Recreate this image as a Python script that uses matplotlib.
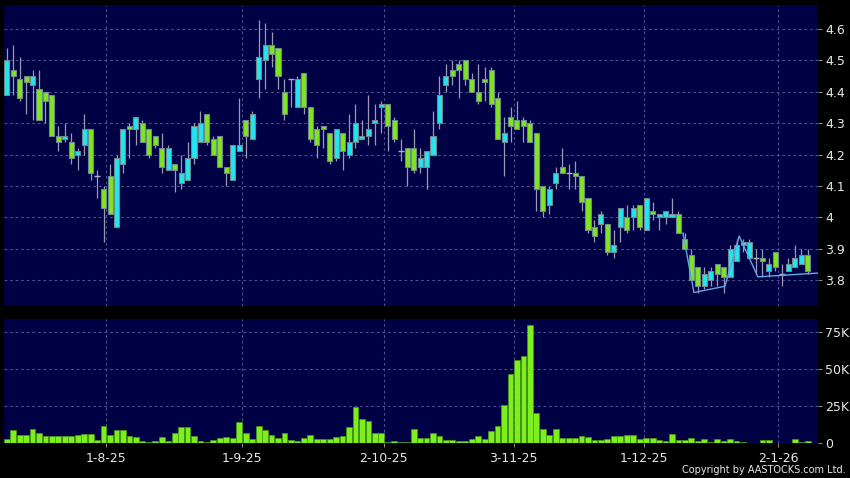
import matplotlib
matplotlib.use("Agg")
import matplotlib.pyplot as plt
import numpy as np
from matplotlib.ticker import FuncFormatter

# Daily prices (one entry per trading day)
opens = [4.39, 4.47, 4.44, 4.45, 4.42, 4.41, 4.40, 4.39, 4.26, 4.25,
         4.24, 4.20, 4.23, 4.28, 4.13, 4.09, 4.13, 3.97, 4.17, 4.29,
         4.28, 4.30, 4.28, 4.26, 4.22, 4.15, 4.17, 4.11, 4.12, 4.19,
         4.24, 4.33, 4.25, 4.26, 4.16, 4.12, 4.21, 4.31, 4.25, 4.44,
         4.50, 4.55, 4.54, 4.40, 4.44, 4.35, 4.46, 4.35, 4.28, 4.29,
         4.27, 4.19, 4.27, 4.20, 4.24, 4.25, 4.26, 4.30, 4.35, 4.36,
         4.31, 4.21, 4.22, 4.22, 4.16, 4.16, 4.20, 4.30, 4.42, 4.47,
         4.49, 4.50, 4.44, 4.40, 4.44, 4.47, 4.38, 4.24, 4.32, 4.31,
         4.31, 4.30, 4.27, 4.10, 4.04, 4.11, 4.16, 4.14, 4.14, 4.13,
         4.06, 3.97, 3.98, 3.98, 3.89, 3.97, 4.00, 4.00, 4.04, 3.96,
         4.02, 4.00, 4.00, 4.00, 4.01, 3.93, 3.88, 3.84, 3.78, 3.80,
         3.85, 3.84, 3.81, 3.86, 3.91, 3.87, 3.87, 3.87, 3.83, 3.89,
         3.82, 3.83, 3.84, 3.85, 3.88]
highs = [4.54, 4.55, 4.51, 4.45, 4.47, 4.47, 4.40, 4.39, 4.29, 4.30,
         4.27, 4.22, 4.33, 4.28, 4.15, 4.10, 4.17, 4.20, 4.28, 4.30,
         4.32, 4.31, 4.28, 4.26, 4.27, 4.23, 4.17, 4.20, 4.24, 4.30,
         4.34, 4.33, 4.26, 4.26, 4.16, 4.23, 4.38, 4.31, 4.34, 4.63,
         4.62, 4.59, 4.54, 4.44, 4.44, 4.45, 4.46, 4.35, 4.29, 4.29,
         4.27, 4.28, 4.27, 4.33, 4.36, 4.31, 4.39, 4.36, 4.37, 4.36,
         4.32, 4.25, 4.22, 4.28, 4.22, 4.21, 4.34, 4.45, 4.49, 4.50,
         4.50, 4.50, 4.46, 4.49, 4.48, 4.48, 4.40, 4.32, 4.35, 4.37,
         4.32, 4.31, 4.27, 4.10, 4.10, 4.16, 4.22, 4.17, 4.18, 4.13,
         4.06, 3.99, 4.02, 3.98, 3.96, 4.03, 4.04, 4.04, 4.04, 4.06,
         4.05, 4.01, 4.02, 4.06, 4.02, 3.95, 3.90, 3.84, 3.84, 3.84,
         3.85, 3.84, 3.91, 3.93, 3.93, 3.93, 3.90, 3.90, 3.87, 3.89,
         3.85, 3.87, 3.91, 3.90, 3.90]
lows = [4.39, 4.39, 4.37, 4.33, 4.31, 4.31, 4.30, 4.26, 4.21, 4.24,
        4.17, 4.15, 4.20, 4.12, 4.06, 3.92, 4.01, 3.97, 4.14, 4.19,
        4.23, 4.24, 4.19, 4.22, 4.14, 4.15, 4.08, 4.09, 4.12, 4.17,
        4.24, 4.23, 4.20, 4.16, 4.10, 4.12, 4.21, 4.19, 4.25, 4.38,
        4.41, 4.48, 4.41, 4.31, 4.35, 4.35, 4.33, 4.24, 4.19, 4.22,
        4.17, 4.18, 4.15, 4.19, 4.22, 4.25, 4.23, 4.23, 4.27, 4.21,
        4.24, 4.18, 4.10, 4.14, 4.14, 4.09, 4.20, 4.28, 4.40, 4.42,
        4.38, 4.42, 4.40, 4.36, 4.37, 4.35, 4.25, 4.13, 4.24, 4.28,
        4.24, 4.24, 4.02, 4.00, 4.01, 4.09, 4.14, 4.09, 4.09, 4.02,
        3.95, 3.92, 3.95, 3.88, 3.87, 3.92, 3.95, 3.96, 3.96, 3.96,
        3.99, 3.96, 3.98, 4.00, 3.95, 3.90, 3.80, 3.76, 3.77, 3.78,
        3.78, 3.76, 3.81, 3.86, 3.89, 3.87, 3.82, 3.81, 3.81, 3.83,
        3.78, 3.83, 3.84, 3.85, 3.82]
closes = [4.50, 4.45, 4.38, 4.43, 4.45, 4.31, 4.37, 4.26, 4.24, 4.26,
          4.19, 4.21, 4.28, 4.14, 4.13, 4.03, 4.01, 4.19, 4.28, 4.28,
          4.32, 4.24, 4.20, 4.23, 4.16, 4.22, 4.15, 4.14, 4.19, 4.29,
          4.30, 4.24, 4.20, 4.16, 4.14, 4.23, 4.23, 4.26, 4.33, 4.51,
          4.55, 4.52, 4.45, 4.33, 4.44, 4.44, 4.35, 4.25, 4.23, 4.28,
          4.18, 4.28, 4.21, 4.24, 4.30, 4.26, 4.28, 4.31, 4.36, 4.29,
          4.25, 4.21, 4.16, 4.15, 4.19, 4.21, 4.26, 4.39, 4.45, 4.45,
          4.47, 4.44, 4.40, 4.37, 4.43, 4.36, 4.25, 4.27, 4.29, 4.28,
          4.29, 4.24, 4.09, 4.02, 4.09, 4.14, 4.14, 4.14, 4.13, 4.05,
          3.96, 3.94, 4.01, 3.89, 3.91, 4.03, 3.96, 4.03, 3.97, 4.06,
          4.01, 4.01, 4.02, 4.01, 3.95, 3.90, 3.80, 3.78, 3.82, 3.83,
          3.82, 3.81, 3.90, 3.91, 3.92, 3.92, 3.87, 3.86, 3.85, 3.84,
          3.82, 3.85, 3.87, 3.88, 3.83]
volumes = [3000, 8900, 5900, 5900, 9900, 7400, 4900, 4900, 4900, 4900,
           4900, 5900, 6400, 6400, 2500, 11800, 5900, 9400, 9400, 4900,
           4400, 2000, 1000, 1500, 4400, 2000, 6900, 10800, 11300, 4900,
           2000, 1000, 2500, 3900, 4400, 3900, 14300, 7400, 3000, 11800,
           9400, 5900, 3500, 6900, 2500, 1500, 3500, 5400, 3000, 3000,
           3000, 4400, 4900, 10800, 24700, 16800, 15300, 6900, 6900, 1000,
           1500, 1000, 1000, 9900, 3900, 3800, 6750, 5000, 2250, 2250,
           1800, 1800, 2700, 5000, 3200, 8500, 11700, 26000, 46800, 56000,
           59000, 80000, 20500, 10000, 5400, 9500, 4000, 3600, 3600, 5000,
           4300, 2250, 2250, 2900, 5000, 5000, 5400, 5600, 2900, 3600,
           3600, 2250, 1350, 6500, 2250, 2250, 4000, 1350, 2700, 900,
           2700, 1800, 2700, 1350, 900, 450, 450, 2250, 2250, 200,
           200, 450, 2700, 900, 1600]

# pattern line drawn over the last weeks (day index, price)
zigzag_day = [104.7, 106.4, 111.2, 113.4, 116.3, 125.6]
zigzag_px = [3.95, 3.76, 3.78, 3.94, 3.81, 3.822]

date_labels = ["1-8-25", "1-9-25", "2-10-25", "3-11-25", "1-12-25", "2-1-26"]
date_ticks = [15.4, 36.4, 58.4, 78.5, 98.6, 119.4]
price_ticks = [3.8, 3.9, 4.0, 4.1, 4.2, 4.3, 4.4, 4.5, 4.6]
vol_ticks = [0, 25000, 50000, 75000]

UP = "#22e6ef"
DOWN = "#7de61f"
PANEL = "#000045"
GRID = "#4d4d8c"
TXT = "#e8e8e8"

days = np.arange(len(closes))
o = np.array(opens)
c = np.array(closes)

fig = plt.figure(figsize=(8.5, 4.78), dpi=100, facecolor="black")
ax = fig.add_axes([0.0047, 0.3598, 0.9576, 0.6287], facecolor=PANEL)
axv = fig.add_axes([0.0047, 0.0722, 0.9576, 0.2605], facecolor=PANEL, sharex=ax)

# Candles: wicks first, then bodies on top.
ax.vlines(days, lows, highs, color="#9a9ab4", lw=0.9, zorder=2)
colors = np.where(c >= o, UP, DOWN)
body_lo = np.minimum(o, c)
body_h = np.abs(c - o)
flat = body_h < 0.005
ax.bar(days[~flat], body_h[~flat], bottom=body_lo[~flat], width=0.78,
       color=colors[~flat], edgecolor="#6f8a8a", linewidth=0.8, zorder=3)
ax.hlines(c[flat], days[flat] - 0.45, days[flat] + 0.45, color="#b0b0c4", lw=1, zorder=3)

ax.plot(zigzag_day, zigzag_px, color="#5fa8e8", lw=1, zorder=4)

# Volume bars
axv.bar(days, volumes, width=0.9, color="#7cf01c", edgecolor="#4a9a14", linewidth=0.5, zorder=3)

for a in (ax, axv):
    a.set_xlim(-0.42, 125.6)
    a.grid(True, color=GRID, lw=0.8, ls=(0, (2.5, 2.5)))
    a.set_axisbelow(True)
    for s in a.spines.values():
        s.set_visible(False)
    a.yaxis.tick_right()
    a.tick_params(axis="y", colors=TXT, labelsize=9, length=3, pad=2, width=0.8)
    a.tick_params(axis="y", color="#888888")

ax.set_ylim(3.717, 4.675)
ax.set_yticks(price_ticks)
ax.yaxis.set_major_formatter(FuncFormatter(lambda v, p: "%g" % round(v, 1)))
ax.set_xticks(date_ticks)
ax.tick_params(axis="x", bottom=False, labelbottom=False)

axv.set_ylim(0, 84000)
axv.set_yticks(vol_ticks)
axv.yaxis.set_major_formatter(FuncFormatter(lambda v, p: "0" if v == 0 else "%dK" % (v / 1000)))
axv.set_xticks(date_ticks)
axv.set_xticklabels(date_labels)
axv.tick_params(axis="x", colors=TXT, labelsize=9, length=3, pad=3, color="#888888")

fig.text(0.995, 0.006, "Copyright by AASTOCKS.com Ltd.", color=TXT, fontsize=7,
         ha="right", va="bottom")

fig.savefig("out.png", dpi=100, facecolor="black")
